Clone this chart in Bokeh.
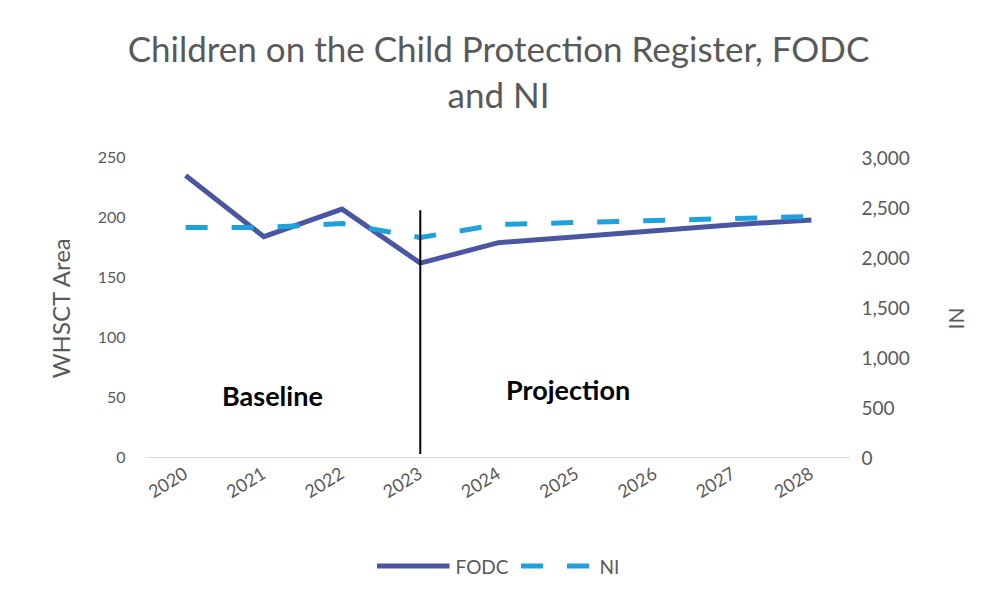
import math
from bokeh.plotting import figure
from bokeh.layouts import column
from bokeh.models import (FactorRange, Range1d, LinearAxis, Legend, LegendItem,
                          Title, Label, NumeralTickFormatter, FixedTicker)
from bokeh.embed import file_html
from bokeh.resources import INLINE

years = ["2020", "2021", "2022", "2023", "2024", "2025", "2026", "2027", "2028"]
fodc = [235, 184, 207, 162, 179, 184, 189, 194, 198]
ni = [2300, 2300, 2340, 2200, 2330, 2350, 2370, 2390, 2410]
left_ticks = [0, 50, 100, 150, 200, 250]
right_ticks = [0, 500, 1000, 1500, 2000, 2500, 3000]

FONT = "Lato"
GREY = "#595959"
FODC_COLOR = "#4A56A0"
NI_COLOR = "#1FA2DC"
NI_DASH = "22 24"

p = figure(frame_width=704, frame_height=300,
           x_range=FactorRange(*years), y_range=Range1d(0, 250),
           output_backend="svg", toolbar_location=None,
           min_border_left=146, min_border_right=137, min_border_top=157, min_border_bottom=75)
p.extra_y_ranges = {"ni": Range1d(0, 3000)}

p.xgrid.visible = False
p.ygrid.visible = False
p.outline_line_color = None

# titles (two centred lines) + spacer next to the plot area
spacer = Title(text=" ", text_font_size="1px", standoff=37)
p.add_layout(spacer, "above")
t2 = Title(text="and NI", align="center", text_font=FONT, text_font_size="35px",
           text_font_style="normal", text_color=GREY, standoff=5)
p.add_layout(t2, "above")
t1 = Title(text="Children on the Child Protection Register, FODC", align="center",
           text_font=FONT, text_font_size="35px", text_font_style="normal",
           text_color=GREY, standoff=0)
p.add_layout(t1, "above")

# left axis
ya = p.yaxis[0]
ya.ticker = FixedTicker(ticks=left_ticks)
ya.axis_label = "WHSCT Area"
ya.axis_line_color = None
ya.major_tick_line_color = None
ya.minor_tick_line_color = None
ya.major_label_text_font = FONT
ya.major_label_text_font_size = "16px"
ya.major_label_text_color = GREY
ya.major_label_standoff = 15
ya.axis_label_text_font = FONT
ya.axis_label_text_font_size = "24px"
ya.axis_label_text_font_style = "normal"
ya.axis_label_text_color = GREY
ya.axis_label_standoff = 20

# right axis
ra = LinearAxis(y_range_name="ni", ticker=FixedTicker(ticks=right_ticks),
                formatter=NumeralTickFormatter(format="0,0"), axis_label="NI")
ra.axis_line_color = None
ra.major_tick_line_color = None
ra.minor_tick_line_color = None
ra.major_label_text_font = FONT
ra.major_label_text_font_size = "19px"
ra.major_label_text_color = GREY
ra.major_label_standoff = 5
ra.axis_label_text_font = FONT
ra.axis_label_text_font_size = "21px"
ra.axis_label_text_font_style = "normal"
ra.axis_label_text_color = GREY
ra.axis_label_standoff = 45
if "axis_label_orientation" in ra.properties():
    ra.axis_label_orientation = -math.pi / 2
p.add_layout(ra, "right")

# x axis
xa = p.xaxis[0]
xa.axis_line_color = "#D9D9D9"
xa.axis_line_width = 1
xa.major_tick_line_color = None
xa.minor_tick_line_color = None
xa.major_label_orientation = 0.55
xa.major_label_text_font = FONT
xa.major_label_text_font_size = "18px"
xa.major_label_text_color = GREY
xa.major_label_standoff = 8

# series
p.line(years, fodc, line_color=FODC_COLOR, line_width=5, line_join="miter")
p.line(years, ni, y_range_name="ni", line_color=NI_COLOR, line_width=5, line_dash=NI_DASH)

# divider between baseline and projection
p.segment(x0=["2023"], y0=[3], x1=["2023"], y1=[206], line_color="black", line_width=2)

p.add_layout(Label(x=1.61, y=52, text="Baseline", text_font=FONT, text_font_size="27px",
                   text_font_style="bold", text_color="black",
                   text_align="center", text_baseline="middle"))
p.add_layout(Label(x=5.39, y=57, text="Projection", text_font=FONT, text_font_size="27px",
                   text_font_style="bold", text_color="black",
                   text_align="center", text_baseline="middle"))

# legend strip below the chart (series drawn off-view, only the legend shows)
pl = figure(width=987, height=67, x_range=Range1d(0, 1), y_range=Range1d(-2, -1),
            output_backend="svg", toolbar_location=None,
            min_border_left=26, min_border_right=0, min_border_top=0, min_border_bottom=0)
pl.axis.visible = False
pl.grid.visible = False
pl.outline_line_color = None
idx = list(range(len(years)))
l1 = pl.line(x=idx, y=fodc, line_color=FODC_COLOR, line_width=5)
l2 = pl.line(x=idx, y=ni, line_color=NI_COLOR, line_width=5, line_dash=NI_DASH)
legend = Legend(items=[LegendItem(label="FODC", renderers=[l1]),
                       LegendItem(label="NI", renderers=[l2])],
                orientation="horizontal", location="center",
                label_text_font=FONT, label_text_font_size="19px", label_text_color=GREY,
                glyph_width=73, glyph_height=20, spacing=12, label_standoff=6,
                border_line_color=None, background_fill_alpha=0, margin=0)
pl.add_layout(legend, "center")

layout = column(p, pl)
open("out.html", "w").write(file_html(layout, INLINE))
